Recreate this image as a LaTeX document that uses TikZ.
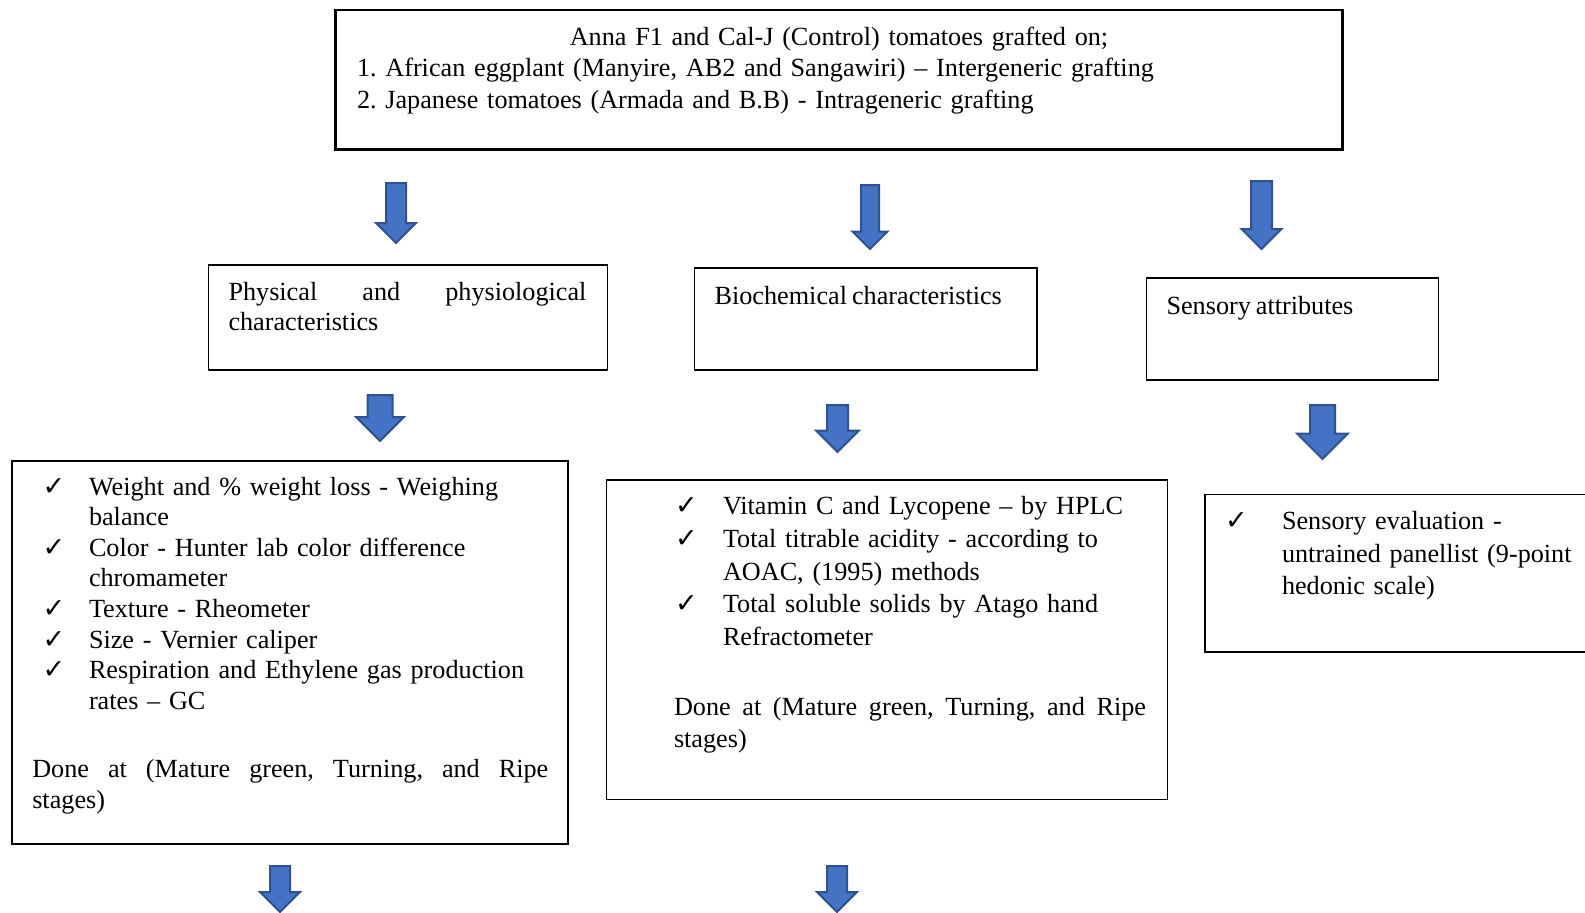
\documentclass[tikz,border=0pt]{standalone}
\usepackage{fontspec}
\setmainfont{Liberation Serif}
\newfontfamily\tickfont{DejaVu Sans}
\usetikzlibrary{shapes.arrows}

\definecolor{arrowblue}{HTML}{4472C4}
\definecolor{arrowedge}{HTML}{2F528F}

\newcommand{\bodyfont}[1]{\fontsize{13.1pt}{#1}\selectfont\frenchspacing\spaceskip=2.5pt plus 2.5pt minus 0.5pt\relax
    \hyphenpenalty=10000\relax\exhyphenpenalty=10000\relax\tolerance=9999\relax}
\newcommand{\tickitem}[2][23.25pt]{\noindent\hangindent=#1\hangafter=1\makebox[#1][l]{{\tickfont\fontsize{13.5pt}{13.5pt}\selectfont ✓}}#2\par}

\begin{document}
\begin{tikzpicture}[
    x=0.5pt, y=-0.5pt,
    box/.style={draw, line width=0.7pt, inner sep=0pt, outer sep=0pt, anchor=north west},
    txt/.style={inner sep=0pt, outer sep=0pt, anchor=base west, font=\bodyfont{15.3pt}},
    blockarrow/.style={single arrow, shape border rotate=270, fill=arrowblue, draw=arrowedge,
        line width=1pt, outer sep=0pt, anchor=tail}
]
    \clip (0,0) rectangle (1585,912);

    % Top: grafting combinations
    \node[box, line width=1.2pt, minimum width=503.4pt, minimum height=69.75pt] (root) at (335.6,10.1) {};
    \node[txt, font=\bodyfont{15.65pt}, text width=482pt] (rootT) at (357,45.5)
        {{\centering Anna F1 and Cal-J (Control) tomatoes grafted on;\par}
         1. African eggplant (Manyire, AB2 and Sangawiri) -- Intergeneric grafting\newline
         2. Japanese tomatoes (Armada and B.B) - Intrageneric grafting};

    % Row 1 arrows
    \node[blockarrow, minimum height=30pt, inner sep=4.5pt, single arrow head extend=5pt] (arrPhys) at (396,183) {};
    \node[blockarrow, minimum height=32pt, inner sep=4pt, single arrow head extend=4.25pt] (arrBioch) at (870,185) {};
    \node[blockarrow, minimum height=34pt, inner sep=4.75pt, single arrow head extend=4.75pt] (arrSens) at (1261.5,181) {};

    % Row 2: characteristic groups
    \node[box, minimum width=199.65pt, minimum height=52.6pt] (phys) at (208.2,264.8) {};
    \node[txt, text width=179pt, align=justify] (physT) at (228.5,300)
        {Physical and physiological\linebreak characteristics};

    \node[box, minimum width=171.35pt, minimum height=51.05pt] (bioch) at (694.4,267.9) {};
    \node[txt] (biochT) at (714.6,304) {Biochemical characteristics};

    \node[box, minimum width=146.1pt, minimum height=51pt] (sens) at (1146.2,278) {};
    \node[txt] (sensT) at (1166.5,314) {Sensory attributes};

    % Row 2 arrows
    \node[blockarrow, minimum height=23pt, inner sep=5.75pt, single arrow head extend=5.75pt] (arrPhysList) at (380,395) {};
    \node[blockarrow, minimum height=23.5pt, inner sep=4.75pt, single arrow head extend=5.5pt] (arrBiochList) at (837.5,405) {};
    \node[blockarrow, minimum height=27pt, inner sep=5.75pt, single arrow head extend=6.5pt] (arrSensList) at (1322.5,405) {};

    % Row 3: methods
    \node[box, minimum width=277.95pt, minimum height=191.5pt] (physlist) at (12.1,461) {};
    \node[txt, text width=262pt] (physlistT) at (42.5,495)
        {\tickitem{Weight and \% weight loss - Weighing\newline balance}
         \tickitem{Color - Hunter lab color difference\newline chromameter}
         \tickitem{Texture - Rheometer}
         \tickitem{Size - Vernier caliper}
         \tickitem{Respiration and Ethylene gas production\newline rates -- GC}};
    \node[txt, font=\bodyfont{15.75pt}, text width=258pt, align=justify] (physDone) at (32.3,777)
        {Done at (Mature green, Turning, and Ripe\linebreak stages)};

    \node[box, minimum width=280.5pt, minimum height=159.75pt] (biochlist) at (606.5,480) {};
    \node[txt, font=\bodyfont{16.4pt}, text width=240pt] (biochlistT) at (675,514.5)
        {\tickitem[24pt]{Vitamin C and Lycopene -- by HPLC}
         \tickitem[24pt]{Total titrable acidity - according to\newline AOAC, (1995) methods}
         \tickitem[24pt]{Total soluble solids by Atago hand\newline Refractometer}};
    \node[txt, font=\bodyfont{15.75pt}, text width=236pt, align=justify] (biochDone) at (674,715.5)
        {Done at (Mature green, Turning, and Ripe\linebreak stages)};

    \node[box, minimum width=200pt, minimum height=78.85pt] (senslist) at (1205,494.3) {};
    \node[txt, font=\bodyfont{16.25pt}, text width=185pt] (senslistT) at (1225,529.5)
        {\tickitem[28.5pt]{Sensory evaluation -\newline untrained panellist (9-point\newline hedonic scale)}};

    % Row 3 arrows (continuing below)
    \node[blockarrow, minimum height=23pt, inner sep=4.5pt, single arrow head extend=5pt] (arrPhysNext) at (280,866) {};
    \node[blockarrow, minimum height=23pt, inner sep=4.5pt, single arrow head extend=5pt] (arrBiochNext) at (837,866) {};
\end{tikzpicture}
\end{document}
